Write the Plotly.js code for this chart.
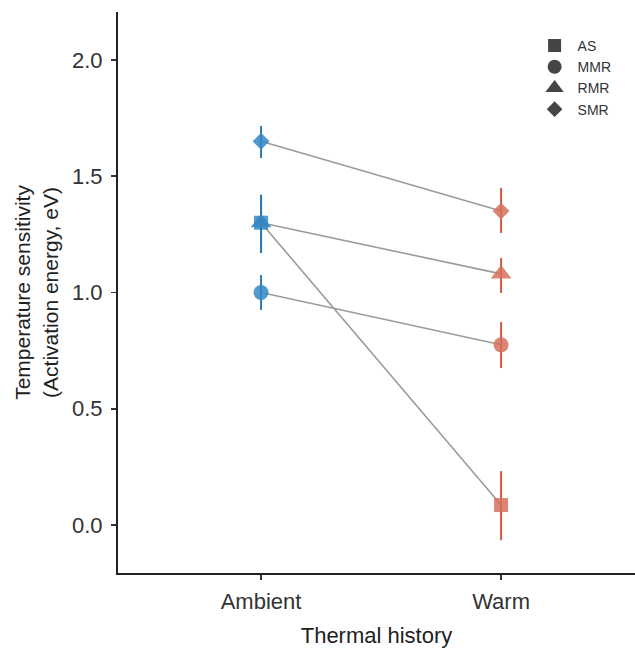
<!DOCTYPE html>
<html><head><meta charset="utf-8">
<script src="https://cdn.plot.ly/plotly-3.0.1.min.js"></script>
<style>html,body{margin:0;padding:0;background:#fff}</style>
</head><body><div id="chart" style="width:635px;height:648px"></div>
<script>
const groups = ["Ambient", "Warm"];
const measures = ["AS", "MMR", "RMR", "SMR"];
const symbols = ["square", "circle", "triangle-up", "diamond"];
// estimates [Ambient, Warm]
const estAS = [1.30, 0.086];
const estMMR = [1.00, 0.775];
const estRMR = [1.30, 1.08];
const estSMR = [1.65, 1.35];
const lowAS = [1.17, -0.065];
const highAS = [1.42, 0.232];
const lowMMR = [0.925, 0.675];
const highMMR = [1.075, 0.873];
const lowRMR = [1.17, 0.998];
const highRMR = [1.42, 1.148];
const lowSMR = [1.578, 1.256];
const highSMR = [1.716, 1.45];

const est = [estAS, estMMR, estRMR, estSMR];
const low = [lowAS, lowMMR, lowRMR, lowSMR];
const high = [highAS, highMMR, highRMR, highSMR];
const markerSizes = [14, 15, 18, 13];
const legendSizes = [13, 14, 17, 12];
const barCol = ["#2a7ab9", "#cc5a43"];
const ptCol = ["rgba(52,135,196,0.85)", "rgba(214,112,92,0.85)"];

const traces = [];
measures.forEach((m, i) => {
  traces.push({
    x: groups, y: est[i], type: "scatter", mode: "lines",
    line: {color: "#9b9b9b", width: 1.6}, showlegend: false, hoverinfo: "skip"
  });
});
measures.forEach((m, i) => {
  groups.forEach((g, j) => {
    traces.push({
      x: [g], y: [est[i][j]], type: "scatter", mode: "markers",
      marker: {symbol: symbols[i], size: markerSizes[i], color: ptCol[j], line: {width: 0}},
      error_y: {type: "data", symmetric: false,
        array: [high[i][j] - est[i][j]], arrayminus: [est[i][j] - low[i][j]],
        color: barCol[j], thickness: 2, width: 0},
      showlegend: false
    });
  });
});
measures.forEach((m, i) => {
  traces.push({
    x: [null], y: [null], type: "scatter", mode: "markers", name: m,
    marker: {symbol: symbols[i], size: legendSizes[i], color: "#454545"},
    showlegend: true
  });
});

const layout = {
  width: 635, height: 648,
  margin: {l: 118, r: 0, t: 12, b: 75},
  paper_bgcolor: "#fff", plot_bgcolor: "#fff",
  font: {family: "Arial, Liberation Sans, sans-serif", color: "#222"},
  showlegend: true,
  legend: {x: 0.8, y: 0.968, xanchor: "left", yanchor: "top",
    font: {size: 14, color: "#333"}, itemsizing: "trace", itemwidth: 36, tracegroupgap: 0,
    bgcolor: "rgba(0,0,0,0)"},
  xaxis: {type: "category", range: [-0.596, 1.558], showgrid: false, zeroline: false,
    showline: true, linecolor: "#222", linewidth: 2, ticks: "outside", ticklen: 5,
    tickwidth: 1.5, tickcolor: "#333", tickfont: {size: 22, color: "#333"}, ticklabelstandoff: 3,
    title: {text: "Thermal history", font: {size: 22, color: "#222"}, standoff: 14}},
  yaxis: {range: [-0.206, 2.206], showgrid: false, zeroline: false,
    showline: true, linecolor: "#222", linewidth: 2, ticks: "outside", ticklen: 5,
    tickwidth: 1.5, tickcolor: "#333", tickvals: [0, 0.5, 1, 1.5, 2], ticklabelstandoff: 4,
    ticktext: ["0.0", "0.5", "1.0", "1.5", "2.0"], tickfont: {size: 22, color: "#333"},
    title: {text: "Temperature sensitivity<br>(Activation energy, eV)", font: {size: 21, color: "#222"}, standoff: 8}}
};
Plotly.newPlot("chart", traces, layout, {displayModeBar: false, staticPlot: true});
</script></body></html>
